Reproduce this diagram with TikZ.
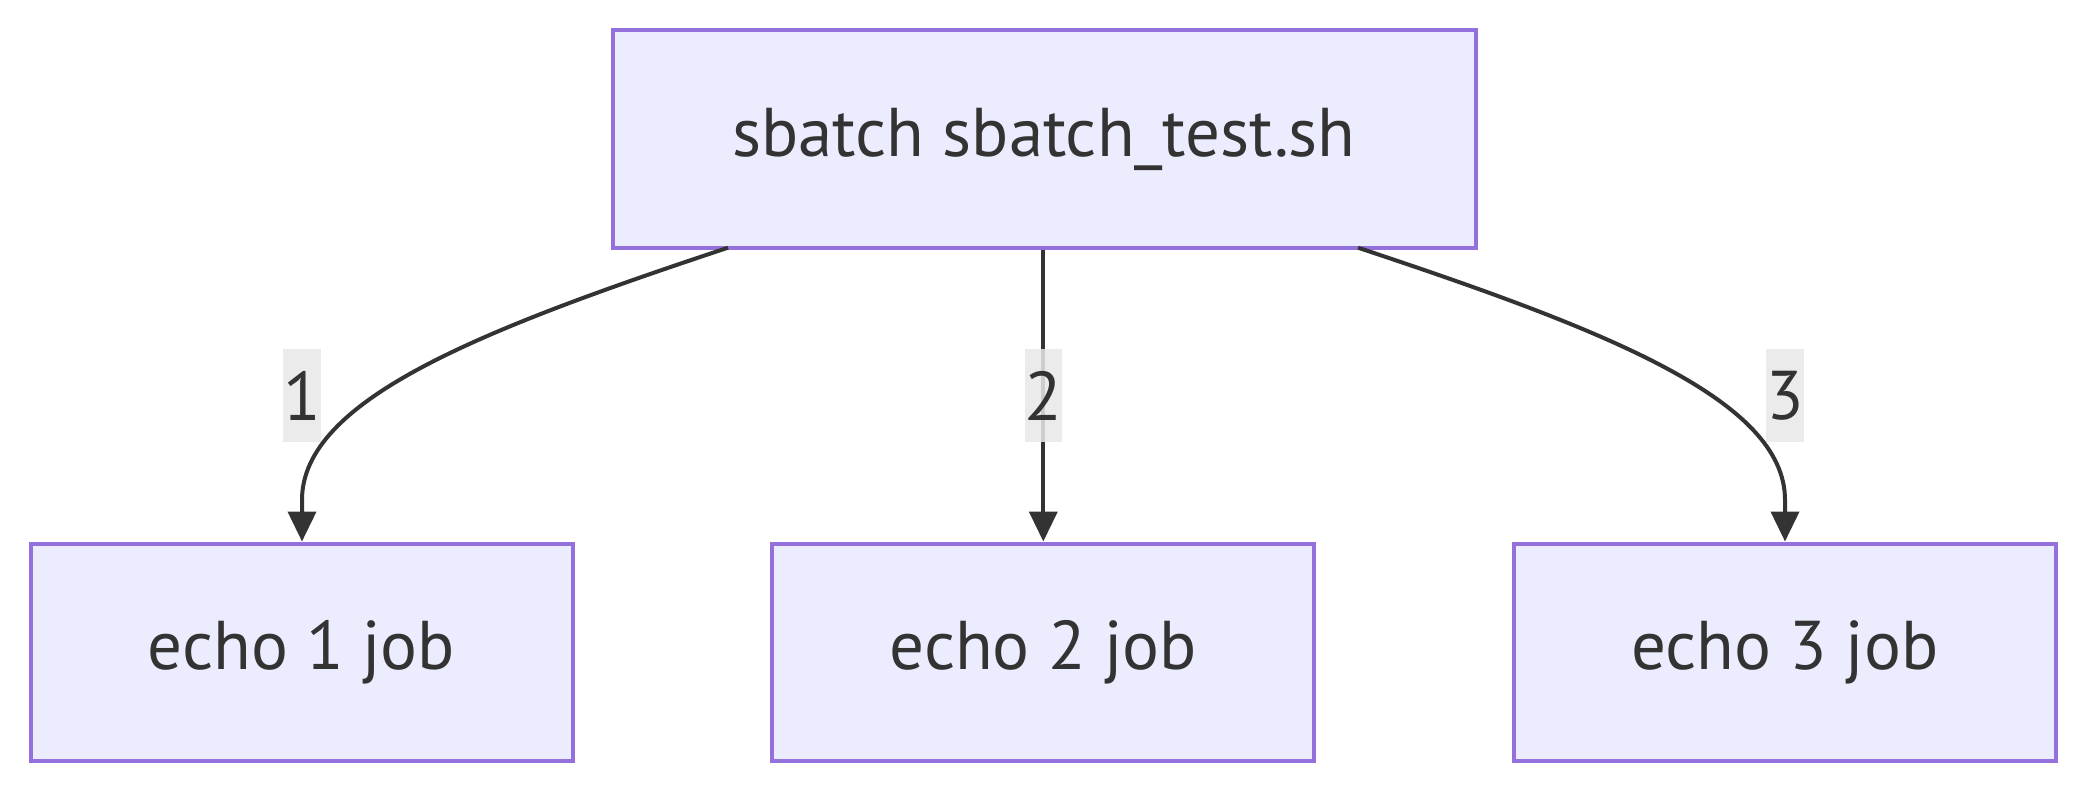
\documentclass[tikz,border=0pt]{standalone}
\usepackage{fontspec}
\setmainfont{PT Sans}
\usetikzlibrary{arrows.meta}
\definecolor{boxfill}{HTML}{ECECFF}
\definecolor{boxline}{HTML}{9370DB}
\definecolor{ink}{HTML}{333333}
\definecolor{lblbg}{HTML}{E8E8E8}
\tikzset{
  procbox/.style={draw=boxline, fill=boxfill, line width=4pt, inner sep=0pt,
    minimum height=217pt, text=ink, font=\fontsize{69}{80}\selectfont},
  topbox/.style={procbox, minimum width=863pt},
  jobbox/.style={procbox, minimum width=542pt},
  edgelbl/.style={fill=lblbg, fill opacity=0.85, text opacity=1, text=ink,
    inner sep=0pt, minimum width=32pt, minimum height=93pt, font=\fontsize{69}{80}\selectfont},
  flow/.style={draw=ink, line width=4pt, -{Triangle[length=30pt,width=28pt]}}
}
\begin{document}
\begin{tikzpicture}[x=1pt,y=-1pt]
\useasboundingbox (0,0) rectangle (2088,792);
\node[topbox] (top) at (1044,139) {sbatch sbatch\_test.sh};
\node[jobbox] (j1) at (301.6,652) {echo 1 job};
\node[jobbox] (j2) at (1043.3,652) {echo 2 job};
\node[jobbox] (j3) at (1785,652) {echo 3 job};
\coordinate (s1) at (728,247.7);
\coordinate (s3) at (1358,247.7);
\draw[flow] (s1) .. controls (480,330) and (302,400) .. (302,500) -- (j1.north -| 302,0);
\draw[flow] (top.south -| j2.north) -- (j2.north);
\draw[flow] (s3) .. controls (1606,330) and (1785,400) .. (1785,500) -- (j3.north);
\node[edgelbl] (l1) at (302,395.5) {1};
\node[edgelbl] (l2) at (1043.3,395.5) {2};
\node[edgelbl] (l3) at (1785,395.5) {3};
\end{tikzpicture}
\end{document}
